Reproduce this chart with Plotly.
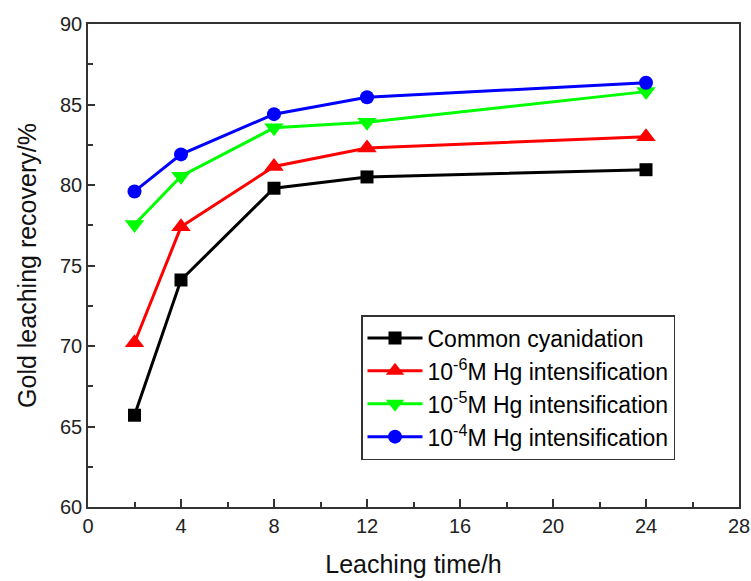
import plotly.graph_objects as go

time_h = [2, 4, 8, 12, 24]
common = [65.7, 74.1, 79.8, 80.5, 80.95]
hg_1e6 = [70.2, 77.4, 81.15, 82.3, 83.0]
hg_1e5 = [77.55, 80.55, 83.55, 83.9, 85.8]
hg_1e4 = [79.6, 81.9, 84.4, 85.45, 86.35]

series_names = [
    "Common cyanidation",
    "10<sup>-6</sup>M Hg intensification",
    "10<sup>-5</sup>M Hg intensification",
    "10<sup>-4</sup>M Hg intensification",
]
x_ticks = [0, 4, 8, 12, 16, 20, 24, 28]
y_ticks = [60, 65, 70, 75, 80, 85, 90]

styles = [
    ("#000000", "square", 13),
    ("#ff0000", "triangle-up", 17),
    ("#00ff00", "triangle-down", 17),
    ("#0000ff", "circle", 14),
]

FONT = "Liberation Sans, Arial"

fig = go.Figure()
for name, ys, (col, sym, sz) in zip(series_names, [common, hg_1e6, hg_1e5, hg_1e4], styles):
    fig.add_trace(go.Scatter(
        x=time_h, y=ys, name=name, mode="lines+markers",
        line=dict(color=col, width=3),
        marker=dict(symbol=sym, size=sz, color=col, line=dict(width=0)),
    ))

axis_common = dict(
    showline=True, linecolor="#333333", linewidth=1.5, mirror=True,
    ticks="inside", tickcolor="#333333", tickwidth=1.5,
    showgrid=False, zeroline=False, automargin=False,
    tickfont=dict(family=FONT, size=20, color="#222222"),
    title_font=dict(family=FONT, size=25, color="#111111"),
)

fig.update_layout(
    width=751, height=581,
    paper_bgcolor="white", plot_bgcolor="white",
    margin=dict(l=88, r=12, t=24, b=74),
    xaxis=dict(range=[0, 28], tickvals=x_ticks, ticklen=8,
               minor=dict(ticks="inside", dtick=2, ticklen=5, tickcolor="#333333", tickwidth=1.5),
               title=dict(text="Leaching time/h", standoff=20), **axis_common),
    yaxis=dict(range=[60, 90], tickvals=y_ticks, ticklen=7,
               minor=dict(ticks="inside", dtick=2.5, ticklen=5, tickcolor="#333333", tickwidth=1.5),
               title=dict(text="Gold leaching recovery/%", standoff=16), **axis_common),
    legend=dict(
        x=(361 - 88) / 651, y=(507 - 315) / 483, xanchor="left", yanchor="top",
        font=dict(family=FONT, size=23, color="#000000"),
        bordercolor="#333333", borderwidth=1.5, bgcolor="white",
        itemwidth=55, tracegroupgap=0,
    ),
    showlegend=True,
)

fig.write_html(
    "out.html",
    config={"displayModeBar": False},
    post_script="document.body.style.margin='0';document.body.style.overflow='hidden';",
)
